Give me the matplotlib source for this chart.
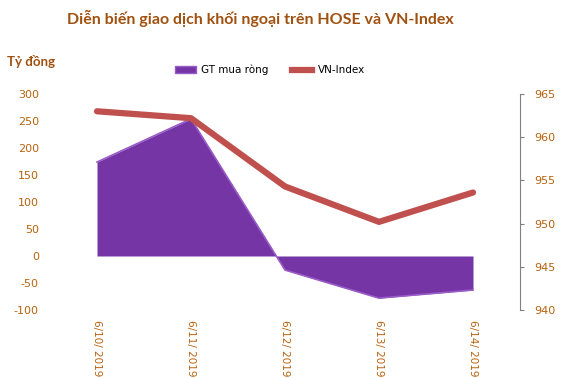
import matplotlib
matplotlib.use("Agg")
import matplotlib.pyplot as plt
from matplotlib.patches import Patch
from matplotlib.lines import Line2D
import numpy as np

plt.rcParams["axes.unicode_minus"] = False

dates = ["6/10/ 2019", "6/11/ 2019", "6/12/ 2019", "6/13/ 2019", "6/14/ 2019"]
net_buy = [174, 254, -26, -78, -63]
vnindex = [963.0, 962.2, 954.3, 950.2, 953.6]
left_ticks = [-100, -50, 0, 50, 100, 150, 200, 250, 300]
right_ticks = [940, 945, 950, 955, 960, 965]

W, H = 563, 378
fig = plt.figure(figsize=(W / 100, H / 100), dpi=100)
ax = fig.add_axes([50 / W, 1 - 310 / H, (520 - 50) / W, (310 - 94) / H])
ax2 = ax.twinx()

tick_color = "#b8620f"
x = np.arange(len(dates))
ax.fill_between(x, net_buy, 0, color="#7535a5", linewidth=0, zorder=2)
ax.plot(x, net_buy, color="#9a5cc8", linewidth=1.2, zorder=3)
ax.set_ylim(-100, 300)
ax.set_xlim(-0.5, 4.5)
ax.set_yticks(left_ticks)
ax.set_xticks(x)
ax.set_xticklabels(dates, rotation=270, color=tick_color, fontsize=7.5)
for s in ax.spines.values():
    s.set_visible(False)
ax.tick_params(axis="y", length=0, labelcolor=tick_color, labelsize=8, pad=8)
ax.tick_params(axis="x", length=0, pad=7)

ax2.plot(x, vnindex, color="#c0504d", linewidth=4.5, solid_capstyle="round", zorder=4)
ax2.set_ylim(940, 965)
ax2.set_yticks(right_ticks)
for k in ["top", "left", "bottom"]:
    ax2.spines[k].set_visible(False)
ax2.spines["right"].set_color("#808080")
ax2.tick_params(axis="y", direction="out", length=3, color="#808080",
                labelcolor=tick_color, labelsize=8, pad=7)

fig.text(260 / W, 1 - 18 / H, "Diễn biến giao dịch khối ngoại trên HOSE và VN-Index",
         ha="center", va="center", fontsize=11.5, fontweight="bold",
         color="#a0500f", family="Lato")
fig.text(7 / W, 1 - 61 / H, "Tỷ đồng", ha="left", va="center",
         fontsize=9.5, fontweight="bold", color="#a0500f", family="Lato")

handles = [Patch(facecolor="#7535a5", edgecolor="#9a5cc8"),
           Line2D([0], [0], color="#c0504d", linewidth=4.5)]
fig.legend(handles, ["GT mua ròng", "VN-Index"], loc="center",
           bbox_to_anchor=(270 / W, 1 - 70 / H), ncol=2, frameon=False,
           fontsize=7.5, handlelength=2.0, columnspacing=2.2, handletextpad=0.5)

fig.savefig("out.png", dpi=100)
